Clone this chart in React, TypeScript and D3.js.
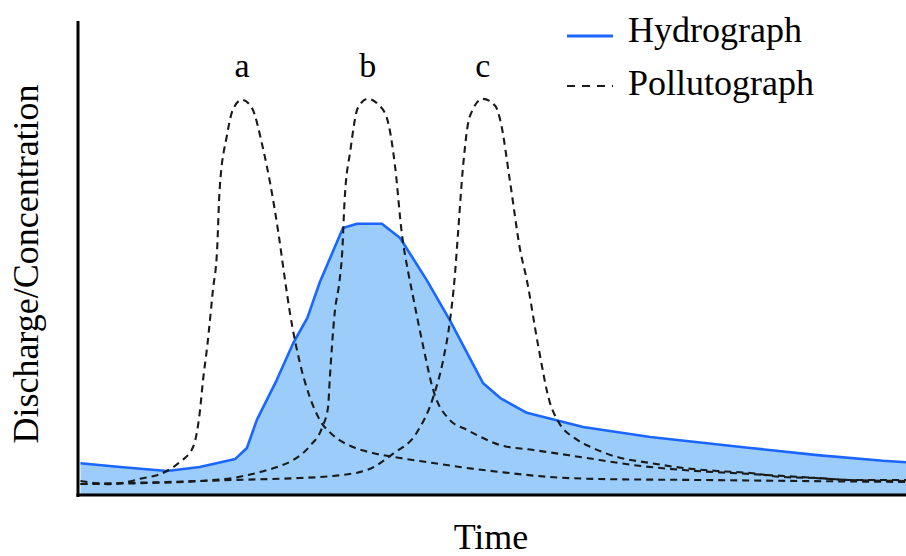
import React from "react";
import * as d3 from "d3";

// Time axis (arbitrary units 0..100) and values (0..100)
const hydroT = [0.3, 5.1, 10.75, 14.7, 19.0, 20.4, 21.6, 24.0, 26.0, 27.7, 29.2, 32.0, 33.7, 36.7, 38.9, 42.1, 44.9, 48.9, 51.0, 54.2, 61.0, 69.1, 81.2, 89.3, 97.2, 100];
const hydroQ = [6.7, 5.9, 5.05, 5.9, 7.6, 9.9, 15.8, 24.2, 32.0, 37.3, 44.8, 56.2, 57.1, 57.1, 54.1, 45.3, 36.8, 23.6, 20.4, 17.3, 14.3, 12.2, 9.9, 8.4, 7.2, 6.9];

const polATime = [0.3, 3.9, 7.5, 10.5, 12.3, 13.9, 14.7, 15.1, 15.6, 16.3, 16.8, 17.1, 18.0, 18.7, 19.8, 21.0, 22.3, 23.2, 24.2, 25.0, 25.6, 26.8, 28.0, 29.2, 30.8, 33.2, 35.6, 38.9, 42.9, 46.1, 51.0, 57.0, 63.0, 75.1, 87.2, 100];
const polAConc = [2.95, 2.3, 3.4, 4.84, 6.95, 10.1, 17.3, 24.2, 31.2, 43.2, 51.6, 64.2, 75.8, 81.1, 83.2, 81.5, 73.3, 65.7, 55.2, 45.3, 38.3, 27.8, 20.6, 15.8, 12.6, 10.1, 8.84, 7.79, 6.74, 5.89, 4.84, 3.79, 3.37, 3.16, 2.95, 2.74];

const polBTime = [0.3, 8.7, 14.7, 18.7, 22.0, 24.4, 26.0, 28.0, 29.5, 30.2, 30.4, 31.0, 31.6, 31.9, 32.2, 32.9, 33.8, 35.0, 36.2, 37.3, 38.3, 39.1, 39.9, 40.3, 41.7, 42.9, 44.9, 47.0, 48.9, 51.0, 55.0, 59.1, 63.0, 67.0, 73.1, 81.2, 87.2, 93.2, 100];
const polBConc = [2.32, 2.53, 2.95, 3.58, 4.84, 6.11, 7.37, 10.3, 14.3, 18.5, 24.2, 38.3, 45.3, 50.9, 62.1, 72.6, 81.5, 83.4, 82.3, 79.4, 69.1, 55.2, 46.7, 43.2, 31.2, 22.1, 15.8, 13.7, 12.0, 10.5, 9.47, 8.42, 7.37, 6.32, 5.26, 4.42, 3.79, 3.16, 2.95];

const polCTime = [0.3, 10.75, 18.7, 26.8, 30.8, 34.9, 38.0, 40.9, 42.9, 44.1, 44.9, 45.5, 45.9, 46.5, 47.3, 48.9, 50.4, 51.0, 52.2, 53.4, 54.2, 55.6, 57.0, 57.9, 60.3, 62.2, 65.1, 69.1, 73.1, 77.2, 81.2, 85.1, 89.3, 93.2, 100];
const polCConc = [2.32, 2.74, 3.16, 3.58, 4.0, 5.26, 8.63, 13.1, 20.6, 28.4, 36.4, 45.9, 55.2, 69.1, 79.6, 83.4, 81.9, 78.9, 65.7, 51.6, 45.3, 31.2, 19.4, 15.8, 11.6, 9.89, 8.0, 6.74, 5.68, 5.05, 4.63, 3.79, 3.58, 3.16, 3.16];

const pulseLabels = ["a", "b", "c"];
const pulsePeakT = [19.8, 35.0, 48.9];
const legendLabels = ["Hydrograph", "Pollutograph"];
const xTitle = "Time";
const yTitle = "Discharge/Concentration";

const W = 906;
const H = 556;
const FONT = "'Liberation Serif', 'Times New Roman', serif";

export default function App() {
  const x = d3.scaleLinear().domain([0, 100]).range([78, 906]);
  const y = d3.scaleLinear().domain([0, 100]).range([495, 20]);

  const hydro = hydroT.map((t, i) => [t, hydroQ[i]] as [number, number]);
  const pols = [
    polATime.map((t, i) => [t, polAConc[i]] as [number, number]),
    polBTime.map((t, i) => [t, polBConc[i]] as [number, number]),
    polCTime.map((t, i) => [t, polCConc[i]] as [number, number]),
  ];

  const area = d3
    .area<[number, number]>()
    .x((d) => x(d[0]))
    .y0(y(0))
    .y1((d) => y(d[1]))
    .curve(d3.curveLinear);
  const hLine = d3
    .line<[number, number]>()
    .x((d) => x(d[0]))
    .y((d) => y(d[1]))
    .curve(d3.curveLinear);
  const pLine = d3
    .line<[number, number]>()
    .x((d) => x(d[0]))
    .y((d) => y(d[1]))
    .curve(d3.curveMonotoneX);

  const peakY = y(83.4);

  return (
    <svg
      width={W}
      height={H}
      style={{ position: "absolute", left: 0, top: 0, background: "#fff" }}
      fontFamily={FONT}
    >
      <path d={area(hydro) || ""} fill="#9ccdfa" stroke="none" />
      <path d={hLine(hydro) || ""} fill="none" stroke="#1a66ff" strokeWidth={2.6} strokeLinejoin="round" />
      {pols.map((p, i) => (
        <path
          key={i}
          d={pLine(p) || ""}
          fill="none"
          stroke="#1a1a1a"
          strokeWidth={2.1}
          strokeDasharray="7,5"
        />
      ))}
      {/* axes */}
      <line x1={x(0)} x2={x(0)} y1={21} y2={497} stroke="#000" strokeWidth={3} />
      <line x1={x(0) - 1.5} x2={x(100)} y1={y(0)} y2={y(0)} stroke="#000" strokeWidth={3} />
      {/* pulse labels */}
      {pulseLabels.map((l, i) => (
        <text key={l} x={x(pulsePeakT[i])} y={peakY - 22} textAnchor="middle" fontSize={34} fill="#000">
          {l}
        </text>
      ))}
      {/* legend */}
      <line x1={567} x2={613} y1={36} y2={36} stroke="#1a66ff" strokeWidth={3} />
      <line x1={567} x2={613} y1={86} y2={86} stroke="#1a1a1a" strokeWidth={2} strokeDasharray="8,7" />
      <text x={628} y={42} fontSize={36} fill="#000">{legendLabels[0]}</text>
      <text x={628} y={95} fontSize={36} fill="#000">{legendLabels[1]}</text>
      {/* axis titles */}
      <text x={491} y={549} textAnchor="middle" fontSize={36} fill="#000">{xTitle}</text>
      <text
        transform={`translate(38,264) rotate(-90)`}
        textAnchor="middle"
        fontSize={36}
        fill="#000"
      >
        {yTitle}
      </text>
    </svg>
  );
}
